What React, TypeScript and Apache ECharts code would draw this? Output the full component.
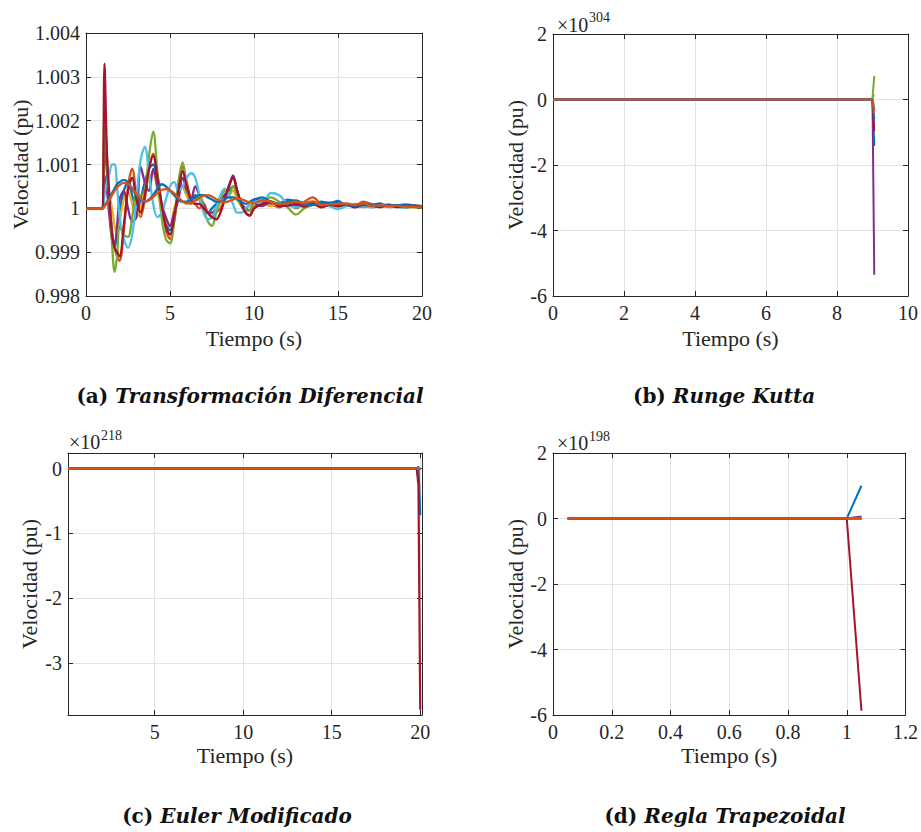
import React, { useEffect, useRef } from 'react';
import * as echarts from 'echarts';

// MATLAB default colour order; 9 machines, so the cycle wraps after 7
const COLORS = ['#0072BD', '#D95319', '#EDB120', '#7E2F8E', '#77AC30', '#4DBEEE', '#A2142F', '#0072BD', '#D95319'];

// ---------- (a) Transformación Diferencial ----------
// time (s)
const T_A = [0, 0.95, 1.0, 1.1, 1.25, 1.4, 1.55, 1.7, 1.85, 2.0, 2.25, 2.5, 2.75, 3.0, 3.25, 3.5, 3.75, 4.0, 4.25, 4.5, 4.75, 5.0, 5.25, 5.5, 5.75, 6.0, 6.25, 6.5, 6.75, 7.0, 7.25, 7.5, 7.75, 8.0, 8.25, 8.5, 8.75, 9.0, 9.25, 9.5, 9.75, 10.0,
  10.5, 11.0, 11.5, 12.0, 12.5, 13.0, 13.5, 14.0, 14.5, 15.0, 15.5, 16.0, 16.5, 17.0, 17.5, 18.0, 18.5, 19.0, 19.5, 20.0];
// speed deviation from 1 pu, in units of 1e-4 pu
const A1 = [0, 0, 0, 15, 8, 2, -5, -9, -6, -1, 4, 6, 3, -1, 2, 6, 9, 10, 6, 1, -3, -5, -1, 3, 5, 3, 2, 3, 2, 0, -1, 0, 1, 2, 3, 4, 5, 3, 1, 0, 1, 2,
  1.5, 0.5, 1, 2, 1.5, 0.3, 0.8, 1.5, 1.2, 1.7, 0.6, 0.5, 1, 0.8, 1.1, 0.4, 0.6, 0.9, 0.7, 0.5];
const A2 = [0, 0, 0, 17.5, 10, 1, -6, -9, -11, -12, -5, 5, 9, 3, -2, 2, 9, 12.5, 8, 1, -5, -7, -3, 4, 9.5, 6, 2, 1, 0, 1, -1, -2, -1, 0, 2, 5, 7, 4, 1, -1, -1.5, 0,
  1.5, 1, 0.2, 1.2, 0, 1.5, 2.5, 1, 0.5, 0.8, 0.6, 0.5, 1.5, 1, 0.3, 0.8, 0.4, 0.5, 0.3, 0.3];
const A3 = [0, 0, 0, 6, 5, 3, 0, -4, -6, -3, 2, 4, 1, -2, 0, 4, 7, 8, 4, 0, -3, -4, 0, 3, 5, 3, 1, 2, 2, 0, -1, -1, 0, 1, 2, 3, 4, 2, 0.5, 0, 0.5, 1,
  1, 0.5, 1, 0.8, 0.3, 1, 0.8, 0.5, 0.6, 0.5, 0.7, 0.4, 0.5, 0.6, 0.3, 0.5, 0.4, 0.3, 0.4, 0.3];
const A4 = [0, 0, 0, 7.5, 4, -2, -7, -8, -4, 2, 4, 0, -3, -2, 9.5, 6, 4, 9, 5, 1, -2, -4, -1, 2, 7, 4, 2, 5, 3, 1, -1, -1, 0, 2, 3, 5, 7.5, 4, 1, 0, -0.5, 1,
  0.5, 1.5, 1, 1.2, 0.5, 0.8, 1, 0.6, 0.8, 0.5, 0.6, 0.8, 0.4, 0.5, 0.7, 0.4, 0.5, 0.3, 0.4, 0.3];
const A5 = [0, 0, 0, 22, 12, 2, -8, -14.5, -11, -4, -6, -6.5, -2, 3, 3, 4, 12, 17.5, 8, -2, -7, -8, -3, 6, 10.5, 5, 1, 2, 3, 0, -3, -4, -1, 2, 4, 3, 5, 3, 0.5, -0.5, -0.5, 1,
  2, 2.5, 1.5, 0.2, -1.4, 0, 1, 0.6, 0.8, 0.4, 0.6, 0.7, 0.3, 0.5, 0.6, 0.3, 0.4, 0.2, 0.3, 0.2];
const A6 = [0, 0, 0, 3, 6, 8, 10, 10, 5, -2, -7, -9, -6, 2, 11, 14, 8, 1, -2, -1, 2, 5, 6, 4, 5, 7, 8, 7, 3, -1, -2.5, -2, 0, 3, 4.5, 3, 1, -1, -1, 0, 1, 2,
  1, 3.5, 3, 1, 0.2, 0.6, 1.2, 0.8, 0.5, -0.2, 0.5, 1, 0.6, 0.2, 0.7, 0.9, 0.3, 0.2, 0.6, 0.4];
const A7 = [0, 0, 0, 33, 12, 2, -6, -9, -10, -11, -4, 4, 7, 2, -1, 3, 9, 12, 7, 1, -4, -6, -2, 4, 8.5, 5, 2, 1, 1, 0, -1, -2, -2.5, -1, 2, 5, 7, 4, 1, -1, -1.7, 0,
  1, 1.5, 0.5, 0.6, 1, 0.4, 1.2, 0.2, 0.8, 0.5, 0.9, 0.2, 0.8, 0.6, 0.3, 0.8, 0.3, 0.5, 0.6, 0.4];
const A8 = [0, 0, 0, 0.5, 1.5, 2.5, 3.5, 4.5, 5.5, 6, 6.5, 6, 4.5, 3, 2, 1.5, 2, 3, 4.5, 5.5, 5, 4, 3, 2, 1.5, 1.5, 2, 2.5, 3, 3, 2.5, 2, 1.5, 1.5, 2, 2.5, 2.5, 2, 1.5, 1, 1.5, 2,
  2.5, 1.5, 1, 1.5, 1.8, 1, 0.8, 1.2, 1.3, 1.2, 0.8, 0.6, 0.9, 0.8, 0.6, 0.6, 0.7, 0.5, 0.4, 0.4];
const A9 = [0, 0, 0, 0.5, 1.2, 2, 3, 4, 4.8, 5.3, 5.8, 5.6, 4.6, 3.3, 2.2, 1.6, 1.8, 2.6, 3.5, 4.2, 4.4, 4.1, 3.4, 2.5, 1.6, 1.1, 1.2, 1.7, 2.4, 2.9, 3, 2.7, 2.1, 1.6, 1.4, 1.6, 2, 2.2, 2.1, 1.7, 1.4, 1.3,
  1.8, 1.5, 0.9, 1.2, 1.5, 1.2, 1.6, 0.8, 0.9, 1, 1.1, 0.8, 1.2, 0.5, 0.7, 0.5, 0.6, 0.3, 0.4, 0.2];
const A_SERIES = [A1, A2, A3, A4, A5, A6, A7, A8, A9];
const A_BASE = 1;
const A_UNIT = 1e-4;
const A_YRANGE = [0.998, 1.004];

// ---------- (b) Runge Kutta (values x 10^304) ----------
const T_B = [0, 8.95, 9.0, 9.05];
const B_SERIES = [
  [0, 0, -0.02, -1.42],
  [0, 0, 0, -0.3],
  [0, 0, 0.02, 0.15],
  [0, 0, -0.05, -5.35],
  [0, 0, 0.05, 0.72],
  [0, 0, -0.01, -0.2],
  [0, 0, -0.03, -0.96],
  [0, 0, 0.01, -0.6],
  [0, 0, -0.02, -0.45],
];

// ---------- (c) Euler Modificado (values x 10^218) ----------
const T_C = [0.1, 19.8, 19.9, 20.0];
const C_SERIES = [
  [0, 0, 0.03, -0.72],
  [0, 0, 0, -0.02],
  [0, 0, 0, 0],
  [0, 0, 0, -0.01],
  [0, 0, 0, 0.01],
  [0, 0, 0, 0],
  [0, 0, -0.25, -3.72],
  [0, 0, 0, -0.01],
  [0, 0, -0.01, -0.02],
];
const C_XTICKS = [5, 10, 15, 20];
const C_YTICKS = [-3, -2, -1, 0];

// ---------- (d) Regla Trapezoidal (values x 10^198) ----------
const T_D = [0.05, 1.0, 1.05];
const D_SERIES = [
  [0, 0, 1.0],
  [0, 0, 0],
  [0, 0, 0.02],
  [0, 0, 0.06],
  [0, 0, 0.01],
  [0, 0, 0],
  [0, 0, -5.87],
  [0, 0, 0],
  [0, 0, 0],
];

const CAPTIONS = [
  { tag: '(a)', title: 'Transformación Diferencial' },
  { tag: '(b)', title: 'Runge Kutta' },
  { tag: '(c)', title: 'Euler Modificado' },
  { tag: '(d)', title: 'Regla Trapezoidal' },
];
const EXPONENTS = ['304', '218', '198'];
const X_NAME = 'Tiempo (s)';
const Y_NAME = 'Velocidad (pu)';

const AX = '#262626';
const GRIDC = '#e2e2e2';
const SERIF = 'Liberation Serif';
const TICK_FS = 20;
const NAME_FS = 22;

function mkAxis(
  kind: 'x' | 'y', gi: number, pos: string, min: number, max: number,
  interval: number | undefined, custom: number[] | undefined, main: boolean,
  name: string, nameGap: number
) {
  const ax: any = {
    type: 'value',
    gridIndex: gi,
    position: pos,
    min,
    max,
    axisLine: { show: true, onZero: false, lineStyle: { color: AX, width: 1 } },
    axisTick: { show: true, inside: true, length: 5, lineStyle: { color: AX, width: 1 } },
    axisLabel: {
      show: main,
      color: AX,
      fontFamily: SERIF,
      fontSize: TICK_FS,
      margin: kind === 'x' ? 7 : 6,
    },
    splitLine: { show: main, lineStyle: { color: GRIDC, width: 1 } },
  };
  if (interval !== undefined) ax.interval = interval;
  if (custom) {
    ax.axisTick.customValues = custom;
    ax.axisLabel.customValues = custom;
  }
  if (main) {
    ax.name = name;
    ax.nameLocation = 'middle';
    ax.nameGap = nameGap;
    ax.nameTextStyle = { color: AX, fontFamily: SERIF, fontSize: NAME_FS };
  }
  return ax;
}

function lineSeries(gi: number, t: number[], vals: number[], idx: number, smooth: number | boolean, width: number, map?: (v: number) => number) {
  return {
    type: 'line',
    xAxisIndex: gi,
    yAxisIndex: gi,
    data: t.map((x, i) => [x, map ? map(vals[i]) : vals[i]]),
    showSymbol: false,
    symbol: 'none',
    smooth,
    lineStyle: { color: COLORS[idx], width },
    itemStyle: { color: COLORS[idx] },
    silent: true,
  };
}

export default function App() {
  const ref = useRef<HTMLDivElement>(null);

  useEffect(() => {
    if (!ref.current) return;
    const chart = echarts.init(ref.current, undefined, { renderer: 'svg' });

    const xAxis = [
      mkAxis('x', 0, 'bottom', 0, 20, 5, undefined, true, X_NAME, 31),
      mkAxis('x', 1, 'bottom', 0, 10, 2, undefined, true, X_NAME, 31),
      mkAxis('x', 2, 'bottom', 0.1, 20.1, undefined, C_XTICKS, true, X_NAME, 29),
      mkAxis('x', 3, 'bottom', 0, 1.2, 0.2, undefined, true, X_NAME, 29),
      mkAxis('x', 0, 'top', 0, 20, 5, undefined, false, '', 0),
      mkAxis('x', 1, 'top', 0, 10, 2, undefined, false, '', 0),
      mkAxis('x', 2, 'top', 0.1, 20.1, undefined, C_XTICKS, false, '', 0),
      mkAxis('x', 3, 'top', 0, 1.2, 0.2, undefined, false, '', 0),
    ];
    const yAxis = [
      mkAxis('y', 0, 'left', A_YRANGE[0], A_YRANGE[1], 0.001, undefined, true, Y_NAME, 52),
      mkAxis('y', 1, 'left', -6, 2, 2, undefined, true, Y_NAME, 24),
      mkAxis('y', 2, 'left', -3.8, 0.24, undefined, C_YTICKS, true, Y_NAME, 28),
      mkAxis('y', 3, 'left', -6, 2, 2, undefined, true, Y_NAME, 26),
      mkAxis('y', 0, 'right', A_YRANGE[0], A_YRANGE[1], 0.001, undefined, false, '', 0),
      mkAxis('y', 1, 'right', -6, 2, 2, undefined, false, '', 0),
      mkAxis('y', 2, 'right', -3.8, 0.24, undefined, C_YTICKS, false, '', 0),
      mkAxis('y', 3, 'right', -6, 2, 2, undefined, false, '', 0),
    ];

    const series: any[] = [];
    A_SERIES.forEach((s, i) => series.push(lineSeries(0, T_A, s, i, 0.35, 2.3, (d) => A_BASE + d * A_UNIT)));
    B_SERIES.forEach((s, i) => series.push(lineSeries(1, T_B, s, i, false, 2)));
    C_SERIES.forEach((s, i) => series.push(lineSeries(2, T_C, s, i, false, 2.2)));
    D_SERIES.forEach((s, i) => series.push(lineSeries(3, T_D, s, i, false, 2)));

    const expo = (x: number, yBase: number, exp: string) => [
      {
        type: 'text', x, y: yBase - 0.35 * TICK_FS, silent: true,
        style: { text: '×10', fontFamily: SERIF, fontSize: TICK_FS, fill: AX, align: 'left', verticalAlign: 'middle' },
      },
      {
        type: 'text', x: x + 32, y: yBase - 9 - 0.35 * 14, silent: true,
        style: { text: exp, fontFamily: SERIF, fontSize: 14, fill: AX, align: 'left', verticalAlign: 'middle' },
      },
    ];

    const capPos = [
      [250, 396],
      [724, 396],
      [237, 816],
      [725, 816],
    ];
    const captions = CAPTIONS.map((c, i) => ({
      type: 'text',
      x: capPos[i][0],
      y: capPos[i][1],
      silent: true,
      style: {
        text: `{n|${c.tag}} {i|${c.title}}`,
        fontFamily: 'DejaVu Serif',
        fontSize: 20,
        fontWeight: 'bold',
        fill: '#111',
        align: 'center',
        verticalAlign: 'middle',
        rich: {
          n: { fontFamily: 'DejaVu Serif', fontSize: 20, fontWeight: 'bold', fontStyle: 'normal', fill: '#111' },
          i: { fontFamily: 'DejaVu Serif', fontSize: 20, fontWeight: 'bold', fontStyle: 'italic', fill: '#111' },
        },
      },
    }));

    chart.setOption({
      animation: false,
      backgroundColor: '#ffffff',
      textStyle: { fontFamily: SERIF },
      grid: [
        { left: 86, top: 33, width: 336, height: 263, containLabel: false },
        { left: 553, top: 34, width: 355, height: 262, containLabel: false },
        { left: 68, top: 453, width: 354, height: 262, containLabel: false },
        { left: 553, top: 453, width: 355, height: 262, containLabel: false },
      ],
      xAxis,
      yAxis,
      series,
      graphic: [
        ...expo(557, 31.7, EXPONENTS[0]),
        ...expo(69, 449.3, EXPONENTS[1]),
        ...expo(557, 450, EXPONENTS[2]),
        ...captions,
      ],
    });

    return () => chart.dispose();
  }, []);

  return (
    <div
      ref={ref}
      style={{ position: 'fixed', left: 0, top: 0, width: 921, height: 832, background: '#fff' }}
    />
  );
}
